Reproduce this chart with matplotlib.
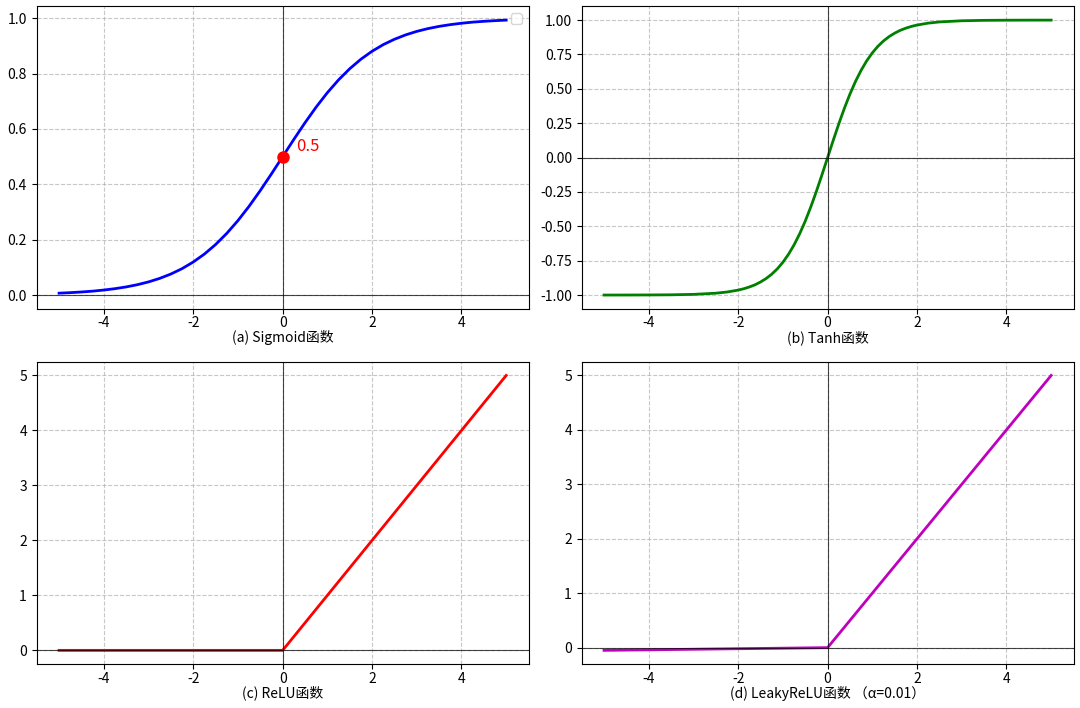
import matplotlib
matplotlib.use('Agg')
import matplotlib.pyplot as plt

plt.rcParams['font.family'] = ['Noto Sans CJK SC', 'DejaVu Sans']
plt.rcParams['axes.unicode_minus'] = False

# Sigmoid 曲线上读取的点 (x 步长 0.25)
x_sigmoid = [-5.0, -4.75, -4.5, -4.25, -4.0, -3.75, -3.5, -3.25, -3.0, -2.75,
             -2.5, -2.25, -2.0, -1.75, -1.5, -1.25, -1.0, -0.75, -0.5, -0.25,
             0.0, 0.25, 0.5, 0.75, 1.0, 1.25, 1.5, 1.75, 2.0, 2.25,
             2.5, 2.75, 3.0, 3.25, 3.5, 3.75, 4.0, 4.25, 4.5, 4.75, 5.0]

sigmoid_y = [0.0067, 0.0086, 0.0110, 0.0140, 0.0180, 0.0230, 0.0293, 0.0373, 0.0474, 0.0601,
             0.0759, 0.0953, 0.1192, 0.1480, 0.1824, 0.2227, 0.2689, 0.3208, 0.3775, 0.4378,
             0.5000, 0.5622, 0.6225, 0.6792, 0.7311, 0.7773, 0.8176, 0.8520, 0.8808, 0.9047,
             0.9241, 0.9399, 0.9526, 0.9627, 0.9707, 0.9770, 0.9820, 0.9860, 0.9890, 0.9914, 0.9933]

# Tanh 曲线上读取的点 (中段更密)
x_tanh = [-5.0, -4.5, -4.0, -3.5, -3.0, -2.5, -2.25, -2.0, -1.875, -1.75,
          -1.625, -1.5, -1.375, -1.25, -1.125, -1.0, -0.875, -0.75, -0.625, -0.5,
          -0.375, -0.25, -0.125, 0.0, 0.125, 0.25, 0.375, 0.5, 0.625, 0.75,
          0.875, 1.0, 1.125, 1.25, 1.375, 1.5, 1.625, 1.75, 1.875, 2.0,
          2.25, 2.5, 3.0, 3.5, 4.0, 4.5, 5.0]

tanh_y = [-0.9999, -0.9998, -0.9993, -0.9982, -0.9951, -0.9866, -0.9780, -0.9640, -0.9541, -0.9414,
          -0.9257, -0.9051, -0.8799, -0.8483, -0.8096, -0.7616, -0.7039, -0.6351, -0.5546, -0.4621,
          -0.3584, -0.2449, -0.1244, 0.0000, 0.1244, 0.2449, 0.3584, 0.4621, 0.5546, 0.6351,
          0.7039, 0.7616, 0.8096, 0.8483, 0.8799, 0.9051, 0.9257, 0.9414, 0.9541, 0.9640,
          0.9780, 0.9866, 0.9951, 0.9982, 0.9993, 0.9998, 0.9999]

# 分段线性函数的折点
x_relu = [-5.0, 0.0, 5.0]
relu_y = [0.0, 0.0, 5.0]
leaky_y = [-0.05, 0.0, 5.0]

sigmoid_mid = (0.0, 0.5)

titles = ['(a) Sigmoid函数', '(b) Tanh函数', '(c) ReLU函数', '(d) LeakyReLU函数 （α=0.01）']

fig, axes = plt.subplots(2, 2, figsize=(10.8, 7.08), dpi=100)

panels = [
    (axes[0, 0], x_sigmoid, sigmoid_y, 'b'),
    (axes[0, 1], x_tanh, tanh_y, 'g'),
    (axes[1, 0], x_relu, relu_y, 'r'),
    (axes[1, 1], x_relu, leaky_y, 'm'),
]

for (ax, xs, ys, color), title in zip(panels, titles):
    ax.plot(xs, ys, color=color, linewidth=2)
    ax.axhline(0, color='black', linewidth=0.8, alpha=0.7)
    ax.axvline(0, color='black', linewidth=0.8, alpha=0.7)
    ax.grid(True, linestyle='--', alpha=0.7)
    ax.tick_params(axis='x', pad=2)
    ax.set_xlabel(title, labelpad=0)

# Sigmoid 中点
ax0 = axes[0, 0]
ax0.plot(sigmoid_mid[0], sigmoid_mid[1], 'ro', markersize=8)
ax0.text(sigmoid_mid[0] + 0.3, sigmoid_mid[1] + 0.02, '0.5', color='red', fontsize=12)
ax0.legend(handles=[], loc='upper right')

plt.subplots_adjust(left=0.034, right=0.994, top=0.991, bottom=0.062,
                    wspace=0.108, hspace=0.175)
plt.savefig('out.png')
